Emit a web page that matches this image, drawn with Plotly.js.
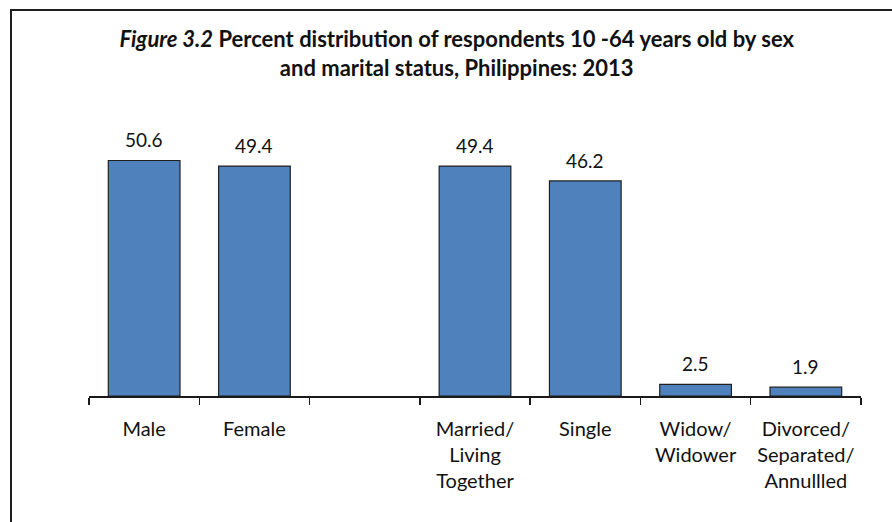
<!DOCTYPE html>
<html>
<head>
<meta charset="utf-8">
<script src="https://cdn.plot.ly/plotly-3.0.1.min.js"></script>
<style>
  html, body { margin: 0; padding: 0; background: #fff; }
  #wrap { position: relative; width: 892px; height: 522px; }
  #chart { width: 892px; height: 522px; }
  #frame { position: absolute; left: 10px; top: 9px; right: 0; bottom: 0;
           border-top: 2px solid #1e1e1e; border-left: 2px solid #1e1e1e; pointer-events: none; }
</style>
</head>
<body>
<div id="wrap">
  <div id="chart"></div>
  <div id="frame"></div>
</div>
<script>
const categories = ["Male", "Female", " ", "Married/<br>Living<br>Together", "Single", "Widow/<br>Widower", "Divorced/<br>Separated/<br>Annullled"];
const percents = [50.6, 49.4, null, 49.4, 46.2, 2.5, 1.9];
const labels = percents.map(v => v === null ? "" : v.toFixed(1));
const titleText = "<i>Figure 3.2</i> Percent distribution of respondents 10 -64 years old by sex<br>and marital status, Philippines: 2013";

const FONT = "Lato, 'Open Sans', sans-serif";

const trace = {
  type: "bar",
  x: categories,
  y: percents,
  marker: { color: "#4F81BD", line: { color: "#1f1f1f", width: 1.2 } },
  width: 0.65,
  hoverinfo: "none"
};

const valueAnnotations = categories
  .map((c, i) => ({ c, v: percents[i], t: labels[i] }))
  .filter(d => d.v !== null)
  .map(d => ({
    x: d.c, y: d.v, xref: "x", yref: "y",
    text: d.t, showarrow: false,
    yanchor: "bottom", yshift: 7,
    font: { family: FONT, size: 19, color: "#111" }
  }));

const layout = {
  width: 892, height: 522,
  margin: { l: 89, r: 31, t: 140, b: 126, pad: 0 },
  paper_bgcolor: "#ffffff",
  plot_bgcolor: "#ffffff",
  showlegend: false,
  title: {
    text: titleText,
    font: { family: FONT, size: 22, color: "#111", weight: "bold" },
    x: 0.512, xanchor: "center",
    y: 0.91, yanchor: "top", yref: "container"
  },
  annotations: valueAnnotations,
  xaxis: {
    type: "category",
    range: [-0.5, 6.5],
    showline: true, linecolor: "#1a1a1a", linewidth: 2,
    ticks: "outside", tickson: "boundaries", ticklen: 7, tickcolor: "#1a1a1a", tickwidth: 1.5,
    ticklabelstandoff: 14,
    tickfont: { family: FONT, size: 20, color: "#111" },
    showgrid: false, zeroline: false, fixedrange: true
  },
  yaxis: {
    range: [0, 55],
    visible: false, showgrid: false, zeroline: false, fixedrange: true
  }
};

Plotly.newPlot("chart", [trace], layout, { staticPlot: true, displayModeBar: false });
</script>
</body>
</html>
